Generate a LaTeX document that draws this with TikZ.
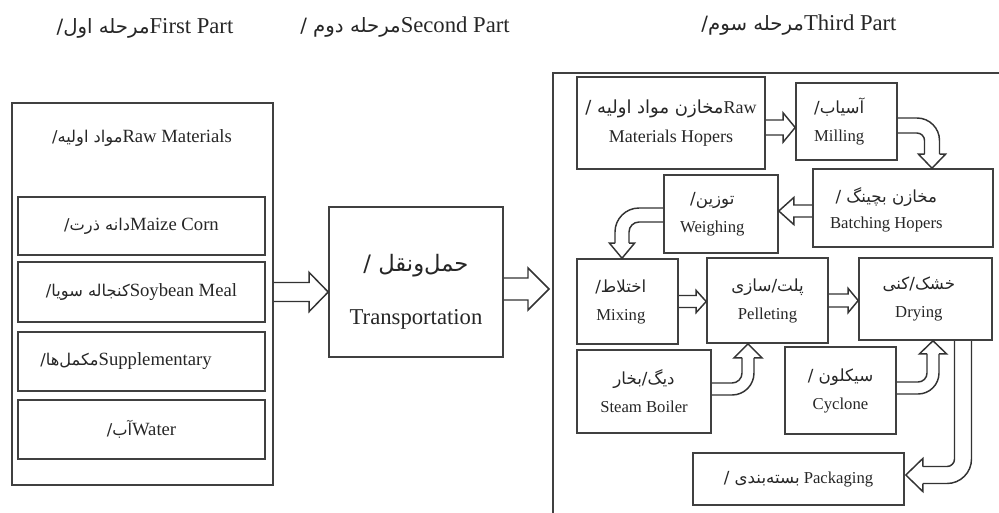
\documentclass[tikz,border=0pt]{standalone}
\usepackage{fontspec}
\setmainfont{Liberation Serif}
\newfontfamily\arfont[Script=Arabic,Scale=0.87]{DejaVu Sans}
\newfontfamily\arbfont[Script=Arabic,Scale=1.0]{DejaVu Sans}
\TeXXeTstate=1
\usetikzlibrary{calc}
\newcommand\ar[1]{{\arfont\beginR #1\endR}}
\newcommand\arb[1]{{\arbfont\beginR #1\endR}}
\newcommand\sla{\kern0pt/\kern0pt}
% box from (x1,y1) to (x2,y2) in pixel units
\newcommand\bx[7][]{\node[box,#1,minimum width={(#5-#3)*0.75pt},minimum height={(#6-#4)*0.75pt}] (#2) at ({(#3+#5)/2},{(#4+#6)/2}) {#7};}
% straight hollow arrow: start, tip-x source, half shaft, half head, signed head length
\newcommand\harr[5]{\draw[blk] ($(#1)+(0,-#3)$) -- ($(#2|-#1)+({-1*(#5)},-#3)$) -- ($(#2|-#1)+({-1*(#5)},-#4)$) -- (#2|-#1) -- ($(#2|-#1)+({-1*(#5)},#4)$) -- ($(#2|-#1)+({-1*(#5)},#3)$) -- ($(#1)+(0,#3)$);}
% bent arrow, horizontal then vertical: start, tip, sx, sy, w, h, L, R
\newcommand\bentHV[8]{%
 \coordinate (bc) at (#2|-#1);
 \draw[blk, rounded corners={(#8+#5)*0.75pt}] ($(#1)+(0,{-(#4)*(#5)})$) -- ($(bc)+({(#3)*(#5)},{-(#4)*(#5)})$) -- ($(#2)+({(#3)*(#5)},{-(#4)*(#7)})$);
 \draw[blk] ($(#2)+({(#3)*(#5)},{-(#4)*(#7)})$) -- ($(#2)+({(#3)*(#6)},{-(#4)*(#7)})$) -- (#2) -- ($(#2)+({-(#3)*(#6)},{-(#4)*(#7)})$) -- ($(#2)+({-(#3)*(#5)},{-(#4)*(#7)})$);
 \draw[blk, rounded corners={(#8-#5)*0.75pt}] ($(#2)+({-(#3)*(#5)},{-(#4)*(#7)})$) -- ($(bc)+({-(#3)*(#5)},{(#4)*(#5)})$) -- ($(#1)+(0,{(#4)*(#5)})$);
}
% bent arrow, vertical then horizontal
\newcommand\bentVH[8]{%
 \coordinate (bc) at (#1|-#2);
 \draw[blk, rounded corners={(#8+#5)*0.75pt}] ($(#1)+({-(#3)*(#5)},0)$) -- ($(bc)+({-(#3)*(#5)},{(#4)*(#5)})$) -- ($(#2)+({-(#3)*(#7)},{(#4)*(#5)})$);
 \draw[blk] ($(#2)+({-(#3)*(#7)},{(#4)*(#5)})$) -- ($(#2)+({-(#3)*(#7)},{(#4)*(#6)})$) -- (#2) -- ($(#2)+({-(#3)*(#7)},{-(#4)*(#6)})$) -- ($(#2)+({-(#3)*(#7)},{-(#4)*(#5)})$);
 \draw[blk, rounded corners={(#8-#5)*0.75pt}] ($(#2)+({-(#3)*(#7)},{-(#4)*(#5)})$) -- ($(bc)+({(#3)*(#5)},{-(#4)*(#5)})$) -- ($(#1)+({(#3)*(#5)},0)$);
}
\begin{document}
\begin{tikzpicture}[x=0.75pt,y=-0.75pt,
  box/.style={draw=black!75, line width=1.2pt, inner sep=0pt, align=center, text=black!85,
    font=\fontsize{12.5}{21}\selectfont},
  frame/.style={draw=black!75, line width=1.2pt},
  blk/.style={draw=black!80, line width=1.1pt, line join=miter},
  hd/.style={font=\fontsize{17}{20}\selectfont, text=black!85, inner sep=0pt},
  lbl/.style={font=\fontsize{14}{17}\selectfont, text=black!85, inner sep=0pt, align=center},
  big/.style={font=\fontsize{14}{17}\selectfont}]
\useasboundingbox (0,0) rectangle (999,512);

% headers
\node[hd] (h1) at (145,28) {\ar{مرحله اول\sla}First Part};
\node[hd] (h2) at (405,27) {\ar{مرحله دوم \sla}Second Part};
\node[hd] (h3) at (799,25) {\ar{مرحله سوم\sla}Third Part};

% first part
\bx{first}{12}{103}{273}{485}{}
\node[lbl] (rawlbl) at (142,138) {\ar{مواد اولیه\sla}Raw Materials};
\bx[big]{maize}{18}{197}{265}{255}{\ar{دانه ذرت\sla}Maize Corn}
\bx[big]{soy}{18}{262}{265}{322}{\ar{کنجاله سویا\sla}Soybean Meal}
\bx[big]{supp}{18}{332}{265}{391}{}
\node[lbl] (supplbl) at (126,361) {\ar{مکمل‌ها\sla}Supplementary};
\bx[big]{water}{18}{400}{265}{459}{\ar{آب\sla}Water}

% second part
\bx{trans}{329}{207}{503}{357}{}
\node[lbl, font=\fontsize{17}{20}\selectfont] (translbl) at (416,292) {\arb{حمل‌ونقل \sla}\\[20pt]Transportation};

% third part frame (cut by the picture edge)
\draw[frame] (999.5,73) -- (553,73) -- (553,512.5);
\coordinate (p3w) at (549,289);

% third part boxes
\bx[font=\fontsize{13.5}{22}\selectfont]{rawhop}{577}{77}{765}{169}{\arb{مخازن مواد اولیه \sla}Raw\\Materials Hopers}
\bx{mill}{796}{83}{897}{160}{\arb{آسیاب\sla}\kern11pt\\Milling\kern11pt}
\bx[font=\fontsize{12.5}{20}\selectfont]{batch}{813}{169}{993}{247}{\rule{0pt}{14pt}\arb{مخازن بچینگ \sla}\kern25pt\\Batching Hopers\kern25pt}
\bx{weigh}{664}{175}{778}{253}{\arb{توزین\sla}\kern13pt\\Weighing\kern13pt}
\bx{mix}{577}{259}{678}{344}{\arb{اختلاط\sla}\kern10pt\\Mixing\kern10pt}
\bx{pell}{707}{258}{828}{343}{\arb{پلت\sla سازی}\\Pelleting}
\bx{dry}{859}{258}{992}{340}{\arb{خشک\sla کنی}\kern10pt\\Drying\kern10pt}
\bx{boil}{577}{350}{711}{433}{\arb{دیگ\sla بخار}\\Steam Boiler}
\bx{cyc}{785}{347}{896}{434}{\arb{سیکلون \sla}\\Cyclone}
\bx{pack}{693}{453}{904}{505}{\arb{بسته‌بندی \sla}\ Packaging}

% straight arrows
\coordinate (a1s) at ($(first.east)+(0,-2)$);
\harr{a1s}{trans.west}{9.5}{19.5}{19}
\coordinate (a2s) at ($(trans.east)+(0,7)$);
\harr{a2s}{p3w}{11}{21}{21}
\coordinate (a3s) at ($(rawhop.east)+(0,4.5)$);
\harr{a3s}{mill.west}{7.5}{14.5}{12}
\coordinate (a4s) at ($(batch.west)+(0,3)$);
\harr{a4s}{weigh.east}{6}{13.5}{-15}
\harr{mix.east}{pell.west}{6}{11}{10}
\harr{pell.east}{dry.west}{6.5}{12}{10}

% bent arrows
\coordinate (b1s) at ($(mill.east)+(0,4)$);
\coordinate (b1t) at ($(batch.north)+(29,0)$);
\bentHV{b1s}{b1t}{1}{1}{7.5}{13.5}{14}{15}
\coordinate (b2s) at ($(weigh.west)+(0,1)$);
\coordinate (b2t) at ($(mix.north)+(-5.5,0)$);
\bentHV{b2s}{b2t}{-1}{1}{7}{12.5}{15}{17}
\coordinate (b3s) at ($(boil.east)+(0,-2.5)$);
\coordinate (b3t) at ($(pell.south)+(-19.5,0)$);
\bentHV{b3s}{b3t}{1}{-1}{6}{14}{14}{16}
\coordinate (b4s) at ($(cyc.east)+(0,-2.5)$);
\coordinate (b4t) at ($(dry.south)+(7.5,0)$);
\bentHV{b4s}{b4t}{1}{-1}{6}{13.5}{13}{15}
\coordinate (b5s) at ($(dry.south)+(37.5,0)$);
\coordinate (b5t) at ($(pack.east)+(1,-4)$);
\bentVH{b5s}{b5t}{-1}{1}{8.5}{16.5}{17}{16}
\end{tikzpicture}
\end{document}
